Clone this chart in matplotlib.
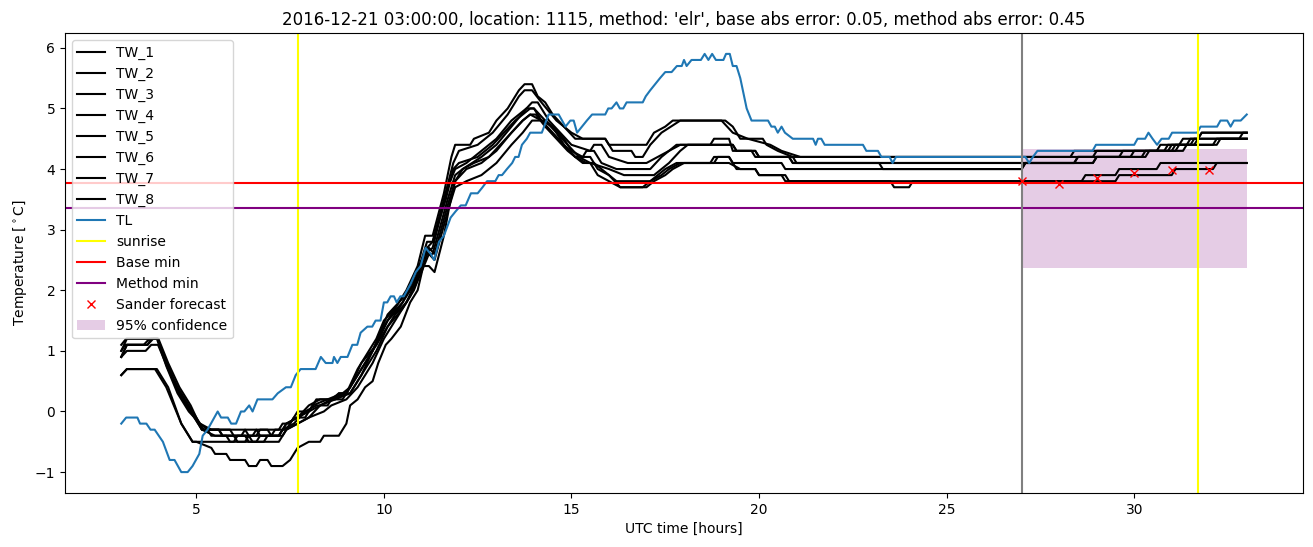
import matplotlib
matplotlib.use("Agg")
import matplotlib.pyplot as plt

# water temperatures (TW_1..TW_8), breakpoints: hours, deg C
tw1_t = [3.0, 3.13, 3.97, 4.2, 4.5, 4.8, 5.1, 5.3, 6.3, 6.4, 6.6, 6.7, 7.2, 7.3, 7.5, 7.7, 8.0, 8.2, 8.6, 8.8, 9.0, 9.3, 9.6, 9.8, 10.0, 10.3, 10.6, 10.9, 11.1, 11.3, 11.6, 11.8, 11.9, 12.3, 12.4, 12.8, 13.0, 13.3, 13.6, 13.75, 13.95, 14.1, 14.3, 14.5, 14.8, 15.1, 15.9, 16.0, 17.0, 17.2, 17.5, 17.7, 19.1, 19.3, 19.5, 20.1, 20.2, 20.5, 20.9, 28.3, 28.4, 30.6, 30.7, 31.2, 31.3, 31.7, 31.8, 33.0]
tw1_v = [1.1, 1.2, 1.2, 0.8, 0.4, 0.1, -0.2, -0.3, -0.3, -0.4, -0.4, -0.3, -0.3, -0.2, -0.2, 0.0, 0.0, 0.2, 0.2, 0.3, 0.3, 0.7, 1.0, 1.2, 1.5, 1.7, 2.0, 2.4, 2.9, 2.9, 3.6, 4.2, 4.4, 4.4, 4.5, 4.6, 4.8, 5.0, 5.3, 5.4, 5.4, 5.2, 5.1, 4.9, 4.7, 4.5, 4.5, 4.4, 4.4, 4.6, 4.7, 4.8, 4.8, 4.7, 4.5, 4.5, 4.4, 4.3, 4.2, 4.2, 4.3, 4.3, 4.4, 4.4, 4.5, 4.5, 4.6, 4.6]

tw2_t = [3.0, 3.15, 3.95, 4.2, 4.5, 4.8, 5.1, 5.4, 5.9, 6.0, 6.5, 6.6, 6.9, 7.0, 7.2, 7.4, 7.7, 8.0, 8.3, 8.6, 9.0, 9.4, 9.7, 10.0, 10.2, 10.5, 10.8, 11.0, 11.15, 11.3, 11.6, 11.85, 12.0, 12.5, 12.9, 13.3, 13.6, 13.75, 13.95, 14.2, 14.6, 15.0, 15.3, 15.9, 16.1, 16.6, 16.7, 16.9, 17.1, 17.4, 17.9, 19.0, 19.3, 19.7, 20.3, 20.6, 21.1, 28.9, 29.0, 30.8, 30.9, 31.4, 31.5, 32.8, 32.9, 33.0]
tw2_v = [1.0, 1.2, 1.2, 0.75, 0.3, 0.0, -0.2, -0.3, -0.3, -0.4, -0.4, -0.3, -0.3, -0.4, -0.4, -0.2, -0.1, 0.0, 0.1, 0.2, 0.3, 0.7, 1.0, 1.4, 1.6, 1.8, 2.2, 2.5, 2.8, 2.8, 3.5, 4.1, 4.3, 4.4, 4.6, 4.9, 5.2, 5.3, 5.3, 5.1, 4.8, 4.6, 4.5, 4.5, 4.3, 4.3, 4.2, 4.2, 4.4, 4.6, 4.8, 4.8, 4.6, 4.5, 4.4, 4.3, 4.2, 4.2, 4.3, 4.3, 4.4, 4.4, 4.5, 4.5, 4.6, 4.6]

tw3_t = [3.0, 3.15, 3.6, 3.75, 3.97, 4.25, 4.55, 4.85, 5.15, 5.6, 5.7, 6.0, 6.1, 6.3, 6.4, 7.0, 7.1, 7.4, 7.6, 7.9, 8.1, 8.5, 8.9, 9.1, 9.4, 9.8, 10.1, 10.4, 10.8, 11.1, 11.3, 11.7, 11.9, 12.2, 12.6, 13.0, 13.4, 13.8, 13.95, 14.1, 14.4, 14.7, 15.0, 15.5, 15.6, 15.8, 16.0, 16.5, 17.0, 17.3, 17.6, 17.9, 18.7, 18.8, 19.2, 19.3, 19.8, 19.9, 20.8, 20.9, 28.4, 28.5, 29.9, 30.0, 30.9, 31.0, 31.6, 31.7, 31.8, 33.0]
tw3_v = [0.9, 1.1, 1.1, 1.2, 1.2, 0.7, 0.3, 0.0, -0.3, -0.3, -0.4, -0.4, -0.5, -0.5, -0.4, -0.4, -0.3, -0.3, -0.1, -0.1, 0.1, 0.2, 0.3, 0.4, 0.8, 1.1, 1.5, 1.7, 2.1, 2.6, 2.7, 3.7, 4.0, 4.1, 4.3, 4.5, 4.8, 5.0, 5.1, 5.1, 4.8, 4.6, 4.4, 4.3, 4.4, 4.4, 4.2, 4.1, 4.1, 4.2, 4.3, 4.4, 4.4, 4.5, 4.5, 4.3, 4.3, 4.2, 4.2, 4.1, 4.1, 4.2, 4.2, 4.3, 4.3, 4.4, 4.4, 4.5, 4.6, 4.6]

tw4_t = [3.0, 3.15, 3.7, 3.85, 3.97, 4.25, 4.55, 4.85, 5.2, 5.3, 5.4, 5.8, 5.9, 6.8, 6.9, 7.2, 7.3, 7.6, 7.9, 8.2, 8.5, 8.6, 8.9, 9.2, 9.6, 10.0, 10.3, 10.6, 10.9, 11.1, 11.3, 11.7, 11.9, 12.1, 12.6, 13.0, 13.4, 13.8, 14.0, 14.2, 14.5, 14.8, 15.1, 15.3, 15.4, 15.6, 15.8, 16.2, 17.1, 17.4, 17.8, 19.3, 19.4, 19.9, 20.0, 20.9, 21.0, 28.9, 29.0, 30.2, 30.3, 31.1, 31.2, 32.1, 32.2, 33.0]
tw4_v = [0.9, 1.1, 1.1, 1.2, 1.2, 0.75, 0.3, 0.0, -0.3, -0.3, -0.4, -0.4, -0.5, -0.5, -0.4, -0.4, -0.3, -0.2, 0.0, 0.1, 0.1, 0.2, 0.2, 0.5, 0.9, 1.3, 1.6, 1.8, 2.2, 2.6, 2.6, 3.5, 3.9, 4.0, 4.2, 4.4, 4.7, 5.0, 5.0, 4.8, 4.7, 4.4, 4.2, 4.2, 4.3, 4.3, 4.1, 4.0, 4.0, 4.2, 4.4, 4.4, 4.3, 4.3, 4.2, 4.2, 4.1, 4.1, 4.2, 4.2, 4.3, 4.3, 4.4, 4.4, 4.5, 4.5]

tw5_t = [3.0, 3.1, 3.7, 3.8, 3.99, 4.25, 4.55, 4.85, 5.15, 5.6, 5.7, 6.2, 6.3, 6.6, 6.7, 7.2, 7.4, 7.7, 8.0, 8.3, 8.7, 8.8, 9.1, 9.4, 9.7, 10.1, 10.4, 10.7, 11.0, 11.15, 11.3, 11.65, 11.85, 12.0, 12.5, 12.9, 13.2, 13.5, 13.7, 13.9, 14.0, 14.3, 14.6, 14.9, 15.2, 15.5, 16.0, 16.4, 17.2, 17.4, 17.6, 17.9, 18.1, 19.3, 19.4, 19.9, 20.0, 20.8, 20.9, 23.2, 23.3, 27.0, 27.1, 28.4, 28.5, 29.6, 29.7, 31.0, 31.1, 31.5, 31.6, 33.0]
tw5_v = [1.0, 1.1, 1.1, 1.2, 1.2, 0.8, 0.4, 0.1, -0.3, -0.3, -0.4, -0.4, -0.3, -0.3, -0.4, -0.4, -0.2, -0.1, 0.1, 0.2, 0.2, 0.3, 0.3, 0.6, 1.0, 1.6, 1.8, 2.0, 2.4, 2.7, 2.8, 3.5, 4.0, 4.1, 4.2, 4.4, 4.6, 4.8, 4.9, 5.0, 5.0, 4.8, 4.6, 4.4, 4.2, 4.1, 4.0, 3.9, 3.9, 4.0, 4.1, 4.3, 4.4, 4.4, 4.3, 4.3, 4.2, 4.2, 4.1, 4.1, 4.0, 4.0, 4.1, 4.1, 4.2, 4.2, 4.3, 4.3, 4.4, 4.4, 4.5, 4.5]

tw6_t = [3.0, 3.15, 3.65, 3.8, 3.98, 4.25, 4.55, 4.85, 5.15, 5.5, 6.3, 6.4, 6.6, 6.7, 7.3, 7.4, 7.7, 8.0, 8.3, 8.7, 9.1, 9.4, 9.8, 10.1, 10.5, 10.8, 11.05, 11.2, 11.35, 11.7, 11.9, 12.2, 12.6, 13.0, 13.4, 13.7, 13.9, 14.2, 14.5, 14.8, 15.1, 15.4, 15.6, 15.8, 16.2, 17.1, 17.3, 17.5, 17.8, 18.8, 18.9, 19.2, 19.3, 20.6, 20.7, 27.0, 27.1, 28.9, 29.0, 30.3, 30.4, 31.3, 31.4, 32.2, 32.3, 33.0]
tw6_v = [0.9, 1.0, 1.0, 1.1, 1.1, 0.7, 0.3, 0.0, -0.3, -0.4, -0.4, -0.5, -0.5, -0.4, -0.4, -0.3, -0.2, -0.1, 0.1, 0.2, 0.3, 0.6, 1.0, 1.4, 1.7, 2.0, 2.4, 2.7, 2.6, 3.4, 3.8, 4.0, 4.1, 4.3, 4.6, 4.8, 4.9, 4.8, 4.6, 4.4, 4.2, 4.1, 4.1, 4.0, 3.8, 3.8, 3.9, 4.0, 4.1, 4.1, 4.2, 4.2, 4.1, 4.1, 4.0, 4.0, 4.1, 4.1, 4.2, 4.2, 4.3, 4.3, 4.4, 4.4, 4.5, 4.5]

tw7_t = [3.0, 3.15, 3.95, 4.25, 4.6, 4.9, 5.4, 6.0, 6.1, 6.4, 6.5, 7.2, 7.4, 7.7, 8.0, 8.4, 8.6, 9.0, 9.3, 9.7, 10.0, 10.4, 10.7, 11.0, 11.2, 11.35, 11.7, 11.9, 12.2, 12.6, 13.0, 13.4, 13.7, 13.95, 14.3, 14.5, 14.8, 15.0, 15.3, 15.5, 15.7, 16.0, 16.3, 16.9, 17.1, 17.4, 17.6, 17.9, 19.2, 19.5, 19.9, 20.0, 20.6, 20.7, 28.6, 28.7, 29.5, 29.6, 30.6, 30.7, 33.0]
tw7_v = [0.6, 0.7, 0.7, 0.4, -0.2, -0.5, -0.5, -0.5, -0.4, -0.4, -0.5, -0.5, -0.3, -0.2, -0.1, 0.0, 0.1, 0.2, 0.4, 0.8, 1.2, 1.6, 1.9, 2.3, 2.6, 2.5, 3.3, 3.7, 3.8, 3.9, 4.1, 4.4, 4.6, 4.8, 4.8, 4.7, 4.5, 4.3, 4.2, 4.2, 4.0, 3.9, 3.7, 3.7, 3.8, 3.9, 4.0, 4.1, 4.1, 4.0, 4.0, 3.9, 3.9, 3.8, 3.8, 3.9, 3.9, 4.0, 4.0, 4.1, 4.1]

tw8_t = [3.0, 3.15, 3.9, 4.2, 4.4, 4.6, 4.9, 5.0, 5.4, 5.5, 5.8, 5.9, 6.3, 6.4, 6.6, 6.7, 6.9, 7.0, 7.3, 7.5, 7.6, 7.7, 8.0, 8.3, 8.4, 8.8, 9.0, 9.1, 9.3, 9.5, 9.7, 9.85, 10.05, 10.2, 10.45, 10.7, 10.9, 11.05, 11.2, 11.35, 11.6, 11.75, 11.9, 12.1, 12.4, 12.8, 13.1, 13.4, 13.7, 13.9, 14.05, 14.3, 14.6, 14.9, 15.1, 15.3, 15.5, 15.7, 16.0, 16.3, 17.0, 17.2, 17.5, 17.7, 18.0, 18.7, 18.8, 19.2, 19.3, 19.4, 19.9, 20.0, 20.7, 20.8, 23.5, 23.6, 24.0, 24.1, 29.5, 29.6, 31.0, 31.1, 32.1, 32.2, 33.0]
tw8_v = [0.6, 0.7, 0.7, 0.4, 0.1, -0.2, -0.5, -0.5, -0.6, -0.7, -0.7, -0.8, -0.8, -0.9, -0.9, -0.8, -0.8, -0.9, -0.9, -0.8, -0.7, -0.6, -0.5, -0.5, -0.4, -0.4, -0.2, 0.1, 0.2, 0.4, 0.5, 0.8, 1.1, 1.2, 1.4, 1.8, 2.0, 2.4, 2.4, 2.3, 2.9, 3.4, 3.8, 4.0, 4.1, 4.2, 4.4, 4.6, 4.8, 4.9, 4.9, 4.7, 4.5, 4.3, 4.2, 4.1, 4.1, 3.9, 3.8, 3.7, 3.7, 3.8, 3.9, 4.0, 4.1, 4.1, 4.2, 4.2, 4.1, 4.0, 4.0, 3.9, 3.9, 3.8, 3.8, 3.7, 3.7, 3.8, 3.8, 3.9, 3.9, 4.0, 4.0, 4.1, 4.1]

# air temperature TL
tl_t = [3.0, 3.13, 3.43, 3.5, 3.67, 3.78, 3.89, 4.11, 4.29, 4.42, 4.6, 4.77, 4.9, 4.99, 5.08, 5.17, 5.3, 5.57, 5.66, 5.84, 5.93, 6.06, 6.19, 6.28, 6.41, 6.5, 6.63, 7.03, 7.17, 7.39, 7.52, 7.65, 7.78, 8.18, 8.32, 8.45, 8.63, 8.67, 8.76, 8.85, 9.03, 9.16, 9.29, 9.38, 9.56, 9.69, 9.78, 9.91, 10.0, 10.09, 10.18, 10.27, 10.34, 10.44, 10.53, 10.62, 10.71, 10.85, 10.98, 11.11, 11.25, 11.34, 11.47, 11.6, 11.78, 11.91, 12.05, 12.18, 12.32, 12.5, 12.63, 12.75, 12.97, 13.06, 13.15, 13.28, 13.42, 13.5, 13.59, 13.68, 13.81, 13.9, 14.21, 14.39, 14.66, 14.84, 14.97, 15.06, 15.15, 15.41, 15.55, 15.9, 15.98, 16.07, 16.2, 16.29, 16.38, 16.47, 16.9, 16.98, 17.1, 17.36, 17.5, 17.67, 17.81, 17.94, 18.0, 18.07, 18.2, 18.45, 18.55, 18.65, 18.75, 18.85, 19.05, 19.12, 19.22, 19.3, 19.4, 19.5, 19.67, 19.8, 20.24, 20.33, 20.42, 20.5, 20.6, 20.69, 20.9, 21.44, 21.51, 21.57, 21.66, 21.75, 22.77, 22.86, 23.17, 23.26, 23.48, 23.56, 23.65, 27.1, 27.2, 27.3, 27.42, 28.89, 28.98, 30.0, 30.09, 30.29, 30.38, 30.49, 30.61, 30.73, 30.92, 31.01, 31.68, 31.77, 32.21, 32.3, 32.48, 32.57, 32.66, 32.84, 33.0]
tl_v = [-0.2, -0.1, -0.1, -0.2, -0.2, -0.3, -0.3, -0.5, -0.8, -0.8, -1.0, -1.0, -0.9, -0.8, -0.7, -0.4, -0.3, 0.0, -0.1, -0.1, -0.2, -0.2, 0.0, 0.0, 0.1, 0.0, 0.2, 0.2, 0.3, 0.4, 0.4, 0.6, 0.7, 0.7, 0.9, 0.8, 0.8, 0.9, 0.8, 0.9, 0.9, 1.1, 1.1, 1.3, 1.4, 1.4, 1.5, 1.5, 1.8, 1.8, 1.9, 1.9, 1.8, 1.9, 1.9, 2.0, 2.1, 2.3, 2.4, 2.7, 2.6, 2.5, 2.8, 2.9, 3.2, 3.3, 3.4, 3.4, 3.6, 3.6, 3.7, 3.8, 3.8, 3.9, 3.9, 4.0, 4.1, 4.2, 4.2, 4.4, 4.5, 4.6, 4.6, 4.9, 4.9, 4.7, 4.8, 4.8, 4.6, 4.8, 4.9, 4.9, 5.0, 5.0, 5.1, 5.0, 5.0, 5.1, 5.1, 5.2, 5.3, 5.5, 5.6, 5.6, 5.7, 5.7, 5.8, 5.7, 5.8, 5.8, 5.9, 5.8, 5.9, 5.8, 5.8, 5.9, 5.9, 5.7, 5.7, 5.5, 5.0, 4.8, 4.8, 4.7, 4.7, 4.6, 4.7, 4.6, 4.5, 4.5, 4.4, 4.5, 4.5, 4.4, 4.4, 4.3, 4.3, 4.2, 4.2, 4.1, 4.2, 4.2, 4.1, 4.2, 4.3, 4.3, 4.4, 4.4, 4.5, 4.5, 4.6, 4.5, 4.4, 4.5, 4.5, 4.6, 4.6, 4.7, 4.7, 4.8, 4.8, 4.7, 4.8, 4.8, 4.9]

sunrise = [7.7, 31.7]
base_min = 3.77
method_min = 3.36
forecast_start = 27.0

sander_t = [27, 28, 29, 30, 31, 32]
sander_v = [3.80, 3.76, 3.85, 3.94, 3.99, 3.99]

conf_t = [27.0, 33.0]
conf_lo = 2.37
conf_hi = 4.33

tw_t = [tw1_t, tw2_t, tw3_t, tw4_t, tw5_t, tw6_t, tw7_t, tw8_t]
tw_v = [tw1_v, tw2_v, tw3_v, tw4_v, tw5_v, tw6_v, tw7_v, tw8_v]

fig, ax = plt.subplots(figsize=(13.13, 5.47), dpi=100)
fig.subplots_adjust(left=0.0495, right=0.9924, top=0.9397, bottom=0.0987)

for i in range(8):
    ax.plot(tw_t[i], tw_v[i], color='black', label='TW_%d' % (i + 1))
ax.plot(tl_t, tl_v, color='tab:blue', label='TL')

ax.axvline(sunrise[0], color='yellow', label='sunrise')
ax.axvline(sunrise[1], color='yellow')
ax.axhline(base_min, color='red', label='Base min')
ax.axhline(method_min, color='purple', label='Method min')
ax.axvline(forecast_start, color='gray')
ax.plot(sander_t, sander_v, 'rx', label='Sander forecast')
ax.fill_between(conf_t, conf_lo, conf_hi, color='purple', alpha=0.2,
                linewidth=0, label='95% confidence')

ax.set_xlabel('UTC time [hours]')
ax.set_ylabel('Temperature [$^\\circ$C]')
ax.set_title("2016-12-21 03:00:00, location: 1115, method: 'elr', "
             "base abs error: 0.05, method abs error: 0.45")
ax.legend(loc='upper left')

fig.savefig('out.png', dpi=100)
